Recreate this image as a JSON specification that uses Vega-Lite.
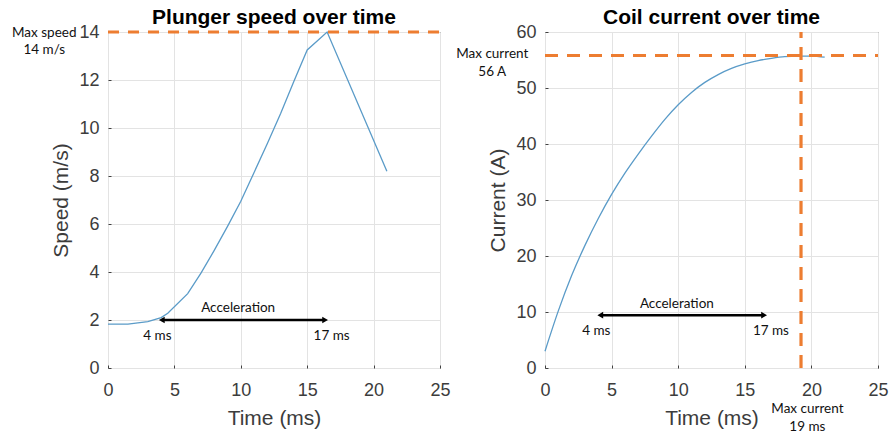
{
  "$schema": "https://vega.github.io/schema/vega-lite/v6.json",
  "autosize": "pad",
  "padding": {"left": 11, "top": 6, "right": 2, "bottom": 0},
  "background": "white",
  "bounds": "flush",
  "spacing": 105,
  "datasets": {
    "speed": [
      {"t": 0, "v": 1.83}, {"t": 1.5, "v": 1.83}, {"t": 3, "v": 1.93}, {"t": 4, "v": 2.1},
      {"t": 4.5, "v": 2.28}, {"t": 6, "v": 3.1}, {"t": 7, "v": 3.95}, {"t": 8, "v": 4.9},
      {"t": 9, "v": 5.9}, {"t": 10, "v": 6.95}, {"t": 11, "v": 8.15}, {"t": 12, "v": 9.35},
      {"t": 13, "v": 10.6}, {"t": 14, "v": 11.95}, {"t": 15, "v": 13.25}, {"t": 16.5, "v": 14},
      {"t": 21, "v": 8.2}
    ],
    "current": [
      {"t": 0, "v": 3}, {"t": 1, "v": 10.2}, {"t": 2, "v": 16.5}, {"t": 3, "v": 21.9},
      {"t": 4, "v": 26.7}, {"t": 5, "v": 31}, {"t": 6, "v": 34.8}, {"t": 7, "v": 38.2},
      {"t": 8, "v": 41.4}, {"t": 9, "v": 44.4}, {"t": 10, "v": 47}, {"t": 11, "v": 49.2},
      {"t": 12, "v": 51}, {"t": 13, "v": 52.4}, {"t": 14, "v": 53.5}, {"t": 15, "v": 54.3},
      {"t": 16, "v": 54.9}, {"t": 17, "v": 55.3}, {"t": 18, "v": 55.6}, {"t": 19, "v": 55.7},
      {"t": 20, "v": 55.7}, {"t": 21, "v": 55.5}
    ],
    "speedMax": [{"t": 0, "t2": 25.3, "v": 14}],
    "currentMaxH": [{"t": 0, "t2": 25, "v": 55.8}],
    "currentMaxV": [{"t": 19.22, "v": 0, "v2": 60}],
    "speedArrow": [{"t": 4.2, "t2": 16.2, "v": 2.0}],
    "speedArrowL": [{"t": 4.05, "v": 2.0}],
    "speedArrowR": [{"t": 16.35, "v": 2.0}],
    "currentArrow": [{"t": 4.3, "t2": 16.3, "v": 9.44}],
    "currentArrowL": [{"t": 4.15, "v": 9.44}],
    "currentArrowR": [{"t": 16.45, "v": 9.44}],
    "speedText": [
      {"t": 9.8, "v": 2.52, "label": "Acceleration"},
      {"t": 3.72, "v": 1.35, "label": "4 ms"},
      {"t": 16.84, "v": 1.35, "label": "17 ms"},
      {"t": -4.8, "v": 13.97, "label": "Max speed"},
      {"t": -4.8, "v": 13.26, "label": "14 m/s"}
    ],
    "currentText": [
      {"t": 9.9, "v": 11.5, "label": "Acceleration"},
      {"t": 3.85, "v": 6.6, "label": "4 ms"},
      {"t": 16.96, "v": 6.6, "label": "17 ms"},
      {"t": -3.96, "v": 56.0, "label": "Max current"},
      {"t": -3.96, "v": 52.8, "label": "56 A"},
      {"t": 19.7, "v": -7.4, "label": "Max current"},
      {"t": 19.7, "v": -10.6, "label": "19 ms"}
    ]
  },
  "hconcat": [
    {
      "width": 332,
      "height": 336,
      "title": "Plunger speed over time",
      "encoding": {
        "x": {"field": "t", "type": "quantitative", "title": "Time (ms)",
              "scale": {"domain": [0, 25], "nice": false},
              "axis": {"values": [0, 5, 10, 15, 20, 25], "labelFlush": false}},
        "y": {"field": "v", "type": "quantitative", "title": "Speed (m/s)",
              "scale": {"domain": [0, 14], "nice": false},
              "axis": {"values": [0, 2, 4, 6, 8, 10, 12, 14]}}
      },
      "layer": [
        {"data": {"name": "speed"}, "mark": {"type": "line", "color": "#5a9bc8", "strokeWidth": 1.3}},
        {"data": {"name": "speedMax"}, "mark": {"type": "rule", "color": "#ed7d31", "strokeWidth": 3.2, "strokeDash": [11, 9]},
         "encoding": {"x2": {"field": "t2"}}},
        {"data": {"name": "speedArrow"}, "mark": {"type": "rule", "color": "#000000", "strokeWidth": 2.5},
         "encoding": {"x2": {"field": "t2"}}},
        {"data": {"name": "speedArrowL"}, "mark": {"type": "point", "shape": "triangle-left", "filled": true, "color": "#000000", "size": 45, "opacity": 1}},
        {"data": {"name": "speedArrowR"}, "mark": {"type": "point", "shape": "triangle-right", "filled": true, "color": "#000000", "size": 45, "opacity": 1}},
        {"data": {"name": "speedText"}, "mark": {"type": "text", "color": "#111111", "baseline": "middle", "align": "center"},
         "encoding": {"text": {"field": "label"}}}
      ]
    },
    {
      "width": 333,
      "height": 336,
      "title": "Coil current over time",
      "encoding": {
        "x": {"field": "t", "type": "quantitative", "title": "Time (ms)",
              "scale": {"domain": [0, 25], "nice": false},
              "axis": {"values": [0, 5, 10, 15, 20, 25], "labelFlush": false}},
        "y": {"field": "v", "type": "quantitative", "title": "Current (A)",
              "scale": {"domain": [0, 60], "nice": false},
              "axis": {"values": [0, 10, 20, 30, 40, 50, 60]}}
      },
      "layer": [
        {"data": {"name": "current"}, "mark": {"type": "line", "color": "#5a9bc8", "strokeWidth": 1.3, "interpolate": "monotone"}},
        {"data": {"name": "currentMaxH"}, "mark": {"type": "rule", "color": "#ed7d31", "strokeWidth": 3.2, "strokeDash": [13, 9]},
         "encoding": {"x2": {"field": "t2"}}},
        {"data": {"name": "currentMaxV"}, "mark": {"type": "rule", "color": "#ed7d31", "strokeWidth": 3.2, "strokeDash": [13, 9]},
         "encoding": {"y2": {"field": "v2"}}},
        {"data": {"name": "currentArrow"}, "mark": {"type": "rule", "color": "#000000", "strokeWidth": 2.5},
         "encoding": {"x2": {"field": "t2"}}},
        {"data": {"name": "currentArrowL"}, "mark": {"type": "point", "shape": "triangle-left", "filled": true, "color": "#000000", "size": 45, "opacity": 1}},
        {"data": {"name": "currentArrowR"}, "mark": {"type": "point", "shape": "triangle-right", "filled": true, "color": "#000000", "size": 45, "opacity": 1}},
        {"data": {"name": "currentText"}, "mark": {"type": "text", "color": "#111111", "baseline": "middle", "align": "center"},
         "encoding": {"text": {"field": "label"}}}
      ]
    }
  ],
  "config": {
    "view": {"stroke": "#404040", "strokeWidth": 1},
    "axis": {
      "grid": true, "gridColor": "#e3e3e3", "domain": false, "ticks": true, "tickSize": -3, "tickColor": "#404040",
      "labelFont": "Liberation Sans", "labelFontSize": 18, "labelColor": "#3c3c3c", "labelPadding": 12,
      "titleFont": "Liberation Sans", "titleFontSize": 21, "titleFontWeight": "normal", "titleColor": "#3c3c3c"
    },
    "axisX": {"labelPadding": 16, "titlePadding": 8.5},
    "axisY": {"titlePadding": 7.5},
    "title": {"font": "Liberation Sans", "fontSize": 21, "fontWeight": "bold", "color": "#000000", "offset": -5},
    "text": {"font": "Lato", "fontSize": 13.5}
  }
}
